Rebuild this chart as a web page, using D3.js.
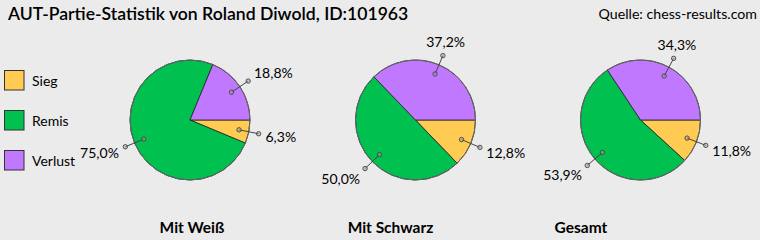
<!DOCTYPE html>
<html>
<head>
<meta charset="utf-8">
<script src="https://cdn.jsdelivr.net/npm/d3@7"></script>
<style>
html,body{margin:0;padding:0;background:#ebebeb;}
svg{display:block;}
text{font-family:Lato,"Open Sans",sans-serif;fill:#000;}
</style>
</head>
<body>
<svg id="chart" width="760" height="240"></svg>
<script>
// ---- data ----
const categories = ["Sieg", "Remis", "Verlust"];
const panelNames = ["Mit Weiß", "Mit Schwarz", "Gesamt"];
const weissValues = [6.3, 75.0, 18.8];
const schwarzValues = [12.8, 50.0, 37.2];
const gesamtValues = [11.8, 53.9, 34.3];
const titleText = "AUT-Partie-Statistik von Roland Diwold, ID:101963";
const sourceText = "Quelle: chess-results.com";

// ---- layout / style ----
const W = 760, H = 240;
const colors = d3.scaleOrdinal().domain(categories).range(["#ffcb52", "#00c04f", "#c078ff"]);
const pieCenters = [190, 415.5, 640.5];
const pieCY = 120, R = 60;
const panelLabelX = [192, 390.5, 581];

const svg = d3.select("#chart");
svg.append("rect").attr("width", W).attr("height", H).attr("fill", "#ebebeb");

svg.append("text").attr("x", 8).attr("y", 19.5)
  .style("font-size", "17.6px").style("font-weight", 600)
  .text(titleText);
svg.append("text").attr("x", 757).attr("y", 18.5).attr("text-anchor", "end")
  .style("font-size", "14.2px").text(sourceText);

// legend
const legendY = d3.scalePoint().domain(categories).range([70, 150]);
const lg = svg.append("g");
categories.forEach(c => {
  lg.append("rect").attr("x", 4.5).attr("y", legendY(c) + 0.5).attr("width", 19.5).attr("height", 19.5)
    .attr("fill", colors(c)).attr("stroke", "#333").attr("stroke-width", 1);
  lg.append("text").attr("x", 32).attr("y", legendY(c) + 16)
    .style("font-size", "14px").text(c);
});

const pie = d3.pie().sort(null).value(d => d.v)
  .startAngle(Math.PI / 2).endAngle(Math.PI / 2 + 2 * Math.PI);
const arc = d3.arc().innerRadius(0).outerRadius(R);
const fmt = v => d3.format(".1f")(v).replace(".", ",") + "%";

const allValues = [weissValues, schwarzValues, gesamtValues];
allValues.forEach((vals, i) => {
  const data = categories.map((c, j) => ({c: c, v: vals[j]}));
  const g = svg.append("g").attr("transform", `translate(${pieCenters[i]},${pieCY})`);
  const arcs = pie(data);
  g.selectAll("path").data(arcs).join("path")
    .attr("d", arc).attr("fill", d => colors(d.data.c))
    .attr("stroke", "#222").attr("stroke-width", 0.8);
  g.append("circle").attr("r", R).attr("fill", "none").attr("stroke", "#666").attr("stroke-width", 1);
  // leader lines + labels
  arcs.forEach(d => {
    const a = (d.startAngle + d.endAngle) / 2;
    const dx = Math.sin(a), dy = -Math.cos(a);
    const p1 = [dx * 50, dy * 50], p2 = [dx * 70, dy * 70];
    g.append("line").attr("x1", p1[0]).attr("y1", p1[1]).attr("x2", p2[0]).attr("y2", p2[1])
      .attr("stroke", "#444").attr("stroke-width", 1);
    [p1, p2].forEach(p => g.append("circle").attr("cx", p[0]).attr("cy", p[1]).attr("r", 2.2)
      .attr("fill", "rgba(160,160,160,0.5)").attr("stroke", "#444").attr("stroke-width", 0.9));
    const anchor = dx > 0.6 ? "start" : (dx < -0.6 ? "end" : "middle");
    g.append("text")
      .attr("x", p2[0] + dx * 7)
      .attr("y", p2[1] + dy * 15)
      .attr("dy", "0.36em")
      .attr("text-anchor", anchor)
      .style("font-size", "14px")
      .text(fmt(d.data.v));
  });
});

panelNames.forEach((n, i) => {
  svg.append("text").attr("x", panelLabelX[i]).attr("y", 232.5).attr("text-anchor", "middle")
    .style("font-size", "15.5px").style("font-weight", 700).text(n);
});
</script>
</body>
</html>
